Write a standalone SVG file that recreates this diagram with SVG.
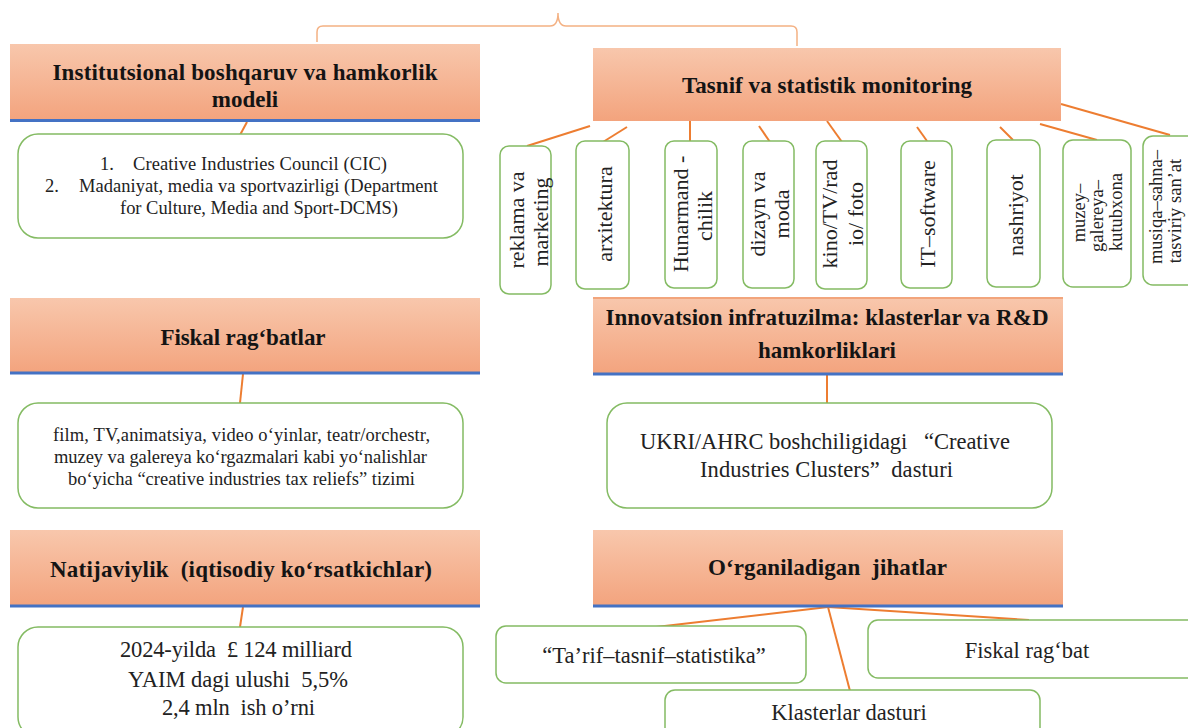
<svg xmlns="http://www.w3.org/2000/svg" width="1188" height="728" viewBox="0 0 1188 728">
<defs>
<linearGradient id="hg" x1="0" y1="0" x2="0" y2="1">
<stop offset="0" stop-color="#f8c7ac"/>
<stop offset="1" stop-color="#f3a37d"/>
</linearGradient>
<style>
.hdr{fill:url(#hg);}
.bl{stroke:#4472c4;stroke-width:3;}
.rb{fill:#fff;stroke:#84bb63;stroke-width:1.5;}
.cn{stroke:#ed7d31;stroke-width:2;fill:none;}
.br{stroke:#f4b183;stroke-width:1.5;fill:none;}
.ht{font-family:"Liberation Serif",serif;font-weight:bold;font-size:23px;fill:#141414;text-anchor:middle;}
.bt{font-family:"Liberation Serif",serif;font-size:22.5px;fill:#222;text-anchor:middle;}
.st{font-size:18.5px;}
.vt{font-size:22px;}
.vs{font-size:18.5px;}
.ls{text-anchor:start;}
</style>
</defs>
<rect width="1188" height="728" fill="#fff"/>

<g id="connectors">
<path class="br" d="M317,42 L317,32 Q317,26 323,26 L550,26 Q558,26 558,13 Q558,26 566,26 L791,26 Q797,26 797,32 L797,46"/>
<line class="cn" x1="247" y1="122" x2="240" y2="135"/>
<line class="cn" x1="590" y1="126" x2="527" y2="146"/>
<line class="cn" x1="627" y1="127" x2="603" y2="142"/>
<line class="cn" x1="690" y1="121" x2="690" y2="142"/>
<line class="cn" x1="759" y1="126" x2="770" y2="142"/>
<line class="cn" x1="827" y1="121" x2="842" y2="142"/>
<line class="cn" x1="917" y1="127" x2="927" y2="141"/>
<line class="cn" x1="1000" y1="127" x2="1013" y2="140"/>
<line class="cn" x1="1040" y1="124" x2="1097" y2="140"/>
<line class="cn" x1="1061" y1="104" x2="1170" y2="135"/>
<line class="cn" x1="243" y1="374" x2="240" y2="403"/>
<line class="cn" x1="827" y1="375" x2="827" y2="403"/>
<line class="cn" x1="243" y1="607" x2="240" y2="627"/>
<line class="cn" x1="828" y1="607" x2="656" y2="627"/>
<line class="cn" x1="828" y1="607" x2="1029" y2="620"/>
<line class="cn" x1="828" y1="607" x2="850" y2="691"/>
</g>

<g id="h-institutsional">
<rect class="hdr" x="10" y="44" width="470" height="77"/>
<line class="bl" x1="10" y1="120.5" x2="480" y2="120.5"/>
<text class="ht" x="245" y="80" textLength="385">Institutsional boshqaruv va hamkorlik</text>
<text class="ht" x="245" y="107">modeli</text>
</g>

<g id="n-institutsional">
<rect class="rb" x="18" y="134" width="445" height="104" rx="20"/>
<text class="bt st ls" x="100" y="170">1.</text>
<text class="bt st ls" x="133" y="170" textLength="254">Creative Industries Council (CIC)</text>
<text class="bt st ls" x="45" y="192">2.</text>
<text class="bt st ls" x="79" y="192" textLength="359">Madaniyat, media va sportvazirligi (Department</text>
<text class="bt st ls" x="120" y="214" textLength="278">for Culture, Media and Sport-DCMS)</text>
</g>

<g id="h-tasnif">
<rect class="hdr" x="593" y="48" width="468" height="73"/>
<text class="ht" x="827" y="93" textLength="290">Tasnif va statistik monitoring</text>
</g>

<g id="v-reklama">
<rect class="rb" x="500" y="146" width="51" height="148" rx="9"/>
<text class="bt vt" transform="translate(516,220) rotate(-90)" dy="0.35em">reklama va</text>
<text class="bt vt" transform="translate(540,222) rotate(-90)" dy="0.35em">marketing</text>
</g>
<g id="v-arxitektura">
<rect class="rb" x="576" y="141" width="53" height="148" rx="9"/>
<text class="bt vt" transform="translate(604,214) rotate(-90)" dy="0.35em">arxitektura</text>
</g>
<g id="v-hunarmand">
<rect class="rb" x="665" y="141" width="52" height="147" rx="9"/>
<text class="bt vt" transform="translate(680,214) rotate(-90)" dy="0.35em">Hunarmand -</text>
<text class="bt vt" transform="translate(704,216) rotate(-90)" dy="0.35em">chilik</text>
</g>
<g id="v-dizayn">
<rect class="rb" x="743" y="141" width="51" height="147" rx="9"/>
<text class="bt vt" transform="translate(757,214) rotate(-90)" dy="0.35em">dizayn va</text>
<text class="bt vt" transform="translate(781,214) rotate(-90)" dy="0.35em">moda</text>
</g>
<g id="v-kino">
<rect class="rb" x="816" y="141" width="51" height="148" rx="9"/>
<text class="bt vt" transform="translate(829,214) rotate(-90)" dy="0.35em">kino/TV/rad</text>
<text class="bt vt" transform="translate(855,214) rotate(-90)" dy="0.35em">io/ foto</text>
</g>
<g id="v-it">
<rect class="rb" x="901" y="141" width="51" height="147" rx="9"/>
<text class="bt vt" transform="translate(927,214) rotate(-90)" dy="0.35em">IT–software</text>
</g>
<g id="v-nashriyot">
<rect class="rb" x="987" y="140" width="53" height="147" rx="9"/>
<text class="bt vt" transform="translate(1015,215) rotate(-90)" dy="0.35em">nashriyot</text>
</g>
<g id="v-muzey">
<rect class="rb" x="1063" y="140" width="68" height="147" rx="10"/>
<text class="bt vs" transform="translate(1079,213) rotate(-90)" dy="0.35em">muzey–</text>
<text class="bt vs" transform="translate(1097,216) rotate(-90)" dy="0.35em">galereya–</text>
<text class="bt vs" transform="translate(1116,212) rotate(-90)" dy="0.35em">kutubxona</text>
</g>
<g id="v-musiqa">
<rect class="rb" x="1143" y="136" width="60" height="149" rx="10"/>
<text class="bt vs" transform="translate(1156,207) rotate(-90)" dy="0.35em">musiqa–sahna–</text>
<text class="bt vs" transform="translate(1175,211) rotate(-90)" dy="0.35em">tasviriy san’at</text>
</g>

<g id="h-fiskal">
<rect class="hdr" x="10" y="298" width="470" height="76"/>
<line class="bl" x1="10" y1="373" x2="480" y2="373"/>
<text class="ht" x="243" y="345" textLength="165">Fiskal rag‘batlar</text>
</g>
<g id="n-fiskal">
<rect class="rb" x="18" y="403" width="445" height="105" rx="20"/>
<text class="bt st" x="241.5" y="441" textLength="377">film, TV,animatsiya, video o‘yinlar, teatr/orchestr,</text>
<text class="bt st" x="240.5" y="463" textLength="373">muzey va galereya ko‘rgazmalari kabi yo‘nalishlar</text>
<text class="bt st" x="241.5" y="485" textLength="347">bo‘yicha “creative industries tax reliefs” tizimi</text>
</g>

<g id="h-innovatsion">
<rect class="hdr" x="593" y="298" width="470" height="77"/>
<line stroke="#f2a57c" stroke-width="2" x1="593" y1="298" x2="1063" y2="298"/>
<line class="bl" x1="593" y1="374" x2="1063" y2="374"/>
<text class="ht" x="827" y="325" textLength="443">Innovatsion infratuzilma: klasterlar va R&amp;D</text>
<text class="ht" x="827" y="358">hamkorliklari</text>
</g>
<g id="n-innovatsion">
<rect class="rb" x="607" y="403" width="445" height="105" rx="20"/>
<text class="bt" x="825" y="449" textLength="370">UKRI/AHRC boshchiligidagi &#160; “Creative</text>
<text class="bt" x="826.5" y="477" textLength="253">Industries Clusters”&#160; dasturi</text>
</g>

<g id="h-natijaviylik">
<rect class="hdr" x="10" y="530" width="470" height="77"/>
<line class="bl" x1="10" y1="606" x2="480" y2="606"/>
<text class="ht" x="241" y="577" textLength="382">Natijaviylik &#160;(iqtisodiy ko‘rsatkichlar)</text>
</g>
<g id="n-natijaviylik">
<rect class="rb" x="18" y="627" width="445" height="110" rx="20"/>
<text class="bt" x="236" y="657" textLength="232">2024-yilda &#160;£ 124 milliard</text>
<text class="bt" x="238" y="687" textLength="220">YAIM dagi ulushi &#160;5,5%</text>
<text class="bt" x="238.5" y="715" textLength="153">2,4 mln &#160;ish o’rni</text>
</g>

<g id="h-organiladigan">
<rect class="hdr" x="593" y="530" width="470" height="77"/>
<line class="bl" x1="593" y1="606" x2="1063" y2="606"/>
<text class="ht" x="827.5" y="575" textLength="239">O‘rganiladigan &#160;jihatlar</text>
</g>
<g id="n-tarif">
<rect class="rb" x="496" y="626" width="310" height="57" rx="10"/>
<text class="bt" x="654" y="663">“Ta’rif–tasnif–statistika”</text>
</g>
<g id="n-fiskalragbat">
<rect class="rb" x="868" y="620" width="330" height="58" rx="10"/>
<text class="bt" x="1027" y="658">Fiskal rag‘bat</text>
</g>
<g id="n-klasterlar">
<rect class="rb" x="665" y="690" width="375" height="50" rx="10"/>
<text class="bt" x="849" y="720">Klasterlar dasturi</text>
</g>
</svg>
